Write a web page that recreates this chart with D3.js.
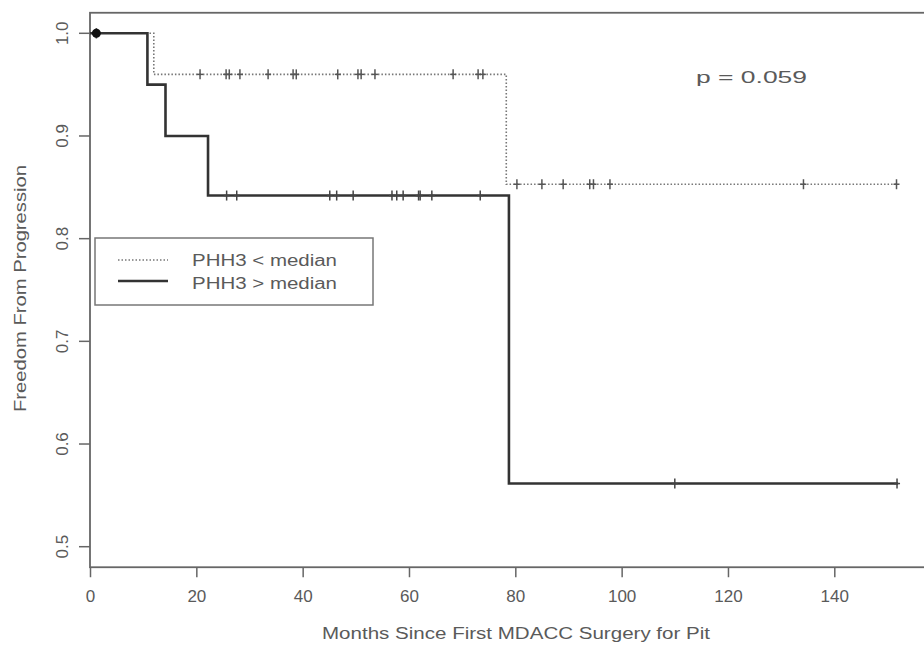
<!DOCTYPE html>
<html><head><meta charset="utf-8">
<script src="https://cdn.jsdelivr.net/npm/d3@7"></script>
<style>body{margin:0;background:#fff}svg{display:block}text{font-family:"Liberation Sans",Arial,sans-serif;fill:#5a5a5a}</style>
</head><body><svg id="c" width="924" height="653"></svg>
<script>
// Kaplan-Meier step data
const lowTimes = [0, 12, 78.3];
const lowSurv = [1.0, 0.96, 0.853];
const highTimes = [0, 10.8, 14.2, 22.2, 78.8];
const highSurv = [1.0, 0.95, 0.90, 0.842, 0.5615];
const endTime = 152;
// censor marks
const lowCensor = [1.2, 20.7, 25.6, 26.2, 28.2, 33.5, 38.2, 38.8, 46.6, 50.4, 51, 53.6, 68.3, 73, 73.9, 80.3, 85, 89, 94, 94.7, 97.8, 134.2, 151.7];
const highCensor = [1.2, 25.7, 27.6, 45.1, 46.4, 49.5, 56.8, 57.7, 58.9, 61.8, 62.1, 64.3, 73.4, 110, 151.8];
const xTicks = [0, 20, 40, 60, 80, 100, 120, 140];
const yTicks = [0.5, 0.6, 0.7, 0.8, 0.9, 1.0];
const legendLabels = ["PHH3 < median", "PHH3 > median"];
const pLabel = "p = 0.059";

const svg = d3.select("#c");
const x = d3.scaleLinear().domain([0, 140]).range([90, 834.3]);
const y = d3.scaleLinear().domain([0.5, 1.0]).range([546.7, 33.3]);
const yTop = y(1.02), yBot = y(0.48);

// frame
svg.append("rect").attr("x", 90).attr("y", yTop).attr("width", 850).attr("height", yBot - yTop)
  .attr("fill", "none").attr("stroke", "#666").attr("stroke-width", 1.8);

// axes
const gx = svg.append("g").attr("transform", `translate(0,${yBot})`)
  .call(d3.axisBottom(x).tickValues(xTicks).tickSize(10).tickPadding(13).tickFormat(d3.format("d")));
gx.select(".domain").remove();
gx.selectAll("line").attr("stroke", "#666").attr("stroke-width", 1.5);
gx.selectAll("text").attr("font-size", 17).style("fill", "#5a5a5a");

const gy = svg.append("g").attr("transform", `translate(90,0)`)
  .call(d3.axisLeft(y).tickValues(yTicks).tickSize(11).tickFormat(d3.format(".1f")));
gy.select(".domain").remove();
gy.selectAll("line").attr("stroke", "#666").attr("stroke-width", 1.5);
gy.selectAll("text").attr("font-size", 17).style("fill", "#5a5a5a")
  .attr("text-anchor", "middle").attr("transform", "rotate(-90)")
  .attr("x", d => -y(d)).attr("y", -28).attr("dy", "0.35em");
gy.selectAll(".tick").attr("transform", null);
gy.selectAll(".tick line").attr("transform", d => `translate(0,${y(d)})`);

// titles
svg.append("text").attr("x", 322).attr("y", 639).attr("font-size", 16)
  .attr("textLength", 388).attr("lengthAdjust", "spacingAndGlyphs").text("Months Since First MDACC Surgery for Pit");
svg.append("text").attr("transform", "translate(26,412) rotate(-90)").attr("font-size", 16)
  .attr("textLength", 247).attr("lengthAdjust", "spacingAndGlyphs").text("Freedom From Progression");

function stepPath(times, surv) {
  const pts = [];
  times.forEach((t, i) => {
    if (i > 0) pts.push([t, surv[i - 1]]);
    pts.push([t, surv[i]]);
  });
  pts.push([endTime, surv[surv.length - 1]]);
  return d3.line().x(d => x(d[0])).y(d => y(d[1]))(pts);
}
function survAt(times, surv, t) {
  let s = surv[0];
  times.forEach((tt, i) => { if (tt <= t) s = surv[i]; });
  return s;
}

svg.append("path").attr("d", stepPath(lowTimes, lowSurv)).attr("fill", "none")
  .attr("stroke", "#777").attr("stroke-width", 1.6).attr("stroke-dasharray", "1.5,2");
svg.append("path").attr("d", stepPath(highTimes, highSurv)).attr("fill", "none")
  .attr("stroke", "#333").attr("stroke-width", 2.6);

function censor(list, times, surv, col, w) {
  list.forEach(t => {
    const cx = x(t), cy = y(survAt(times, surv, t));
    svg.append("line").attr("x1", cx).attr("x2", cx).attr("y1", cy - 5).attr("y2", cy + 5).attr("stroke", col).attr("stroke-width", w);
    svg.append("line").attr("x1", cx - 3).attr("x2", cx + 3).attr("y1", cy).attr("y2", cy).attr("stroke", col).attr("stroke-width", w);
  });
}
censor(lowCensor, lowTimes, lowSurv, "#555", 1.5);
censor(highCensor, highTimes, highSurv, "#444", 1.5);
svg.append("circle").attr("cx", x(lowCensor[0])).attr("cy", y(1.0)).attr("r", 4.5).attr("fill", "#111");

// legend
svg.append("rect").attr("x", 95).attr("y", 238).attr("width", 278).attr("height", 67)
  .attr("fill", "#fff").attr("stroke", "#777").attr("stroke-width", 1.5);
svg.append("line").attr("x1", 118).attr("x2", 168).attr("y1", 260).attr("y2", 260)
  .attr("stroke", "#777").attr("stroke-width", 1.6).attr("stroke-dasharray", "1.5,2");
svg.append("line").attr("x1", 118).attr("x2", 168).attr("y1", 281).attr("y2", 281)
  .attr("stroke", "#333").attr("stroke-width", 2.6);
legendLabels.forEach((l, i) => {
  svg.append("text").attr("x", 192).attr("y", 266 + i * 23).attr("font-size", 16)
    .attr("textLength", 145).attr("lengthAdjust", "spacingAndGlyphs").text(l);
});

svg.append("text").attr("x", 696).attr("y", 83).attr("font-size", 16)
  .attr("textLength", 111).attr("lengthAdjust", "spacingAndGlyphs").text(pLabel);
</script></body></html>
